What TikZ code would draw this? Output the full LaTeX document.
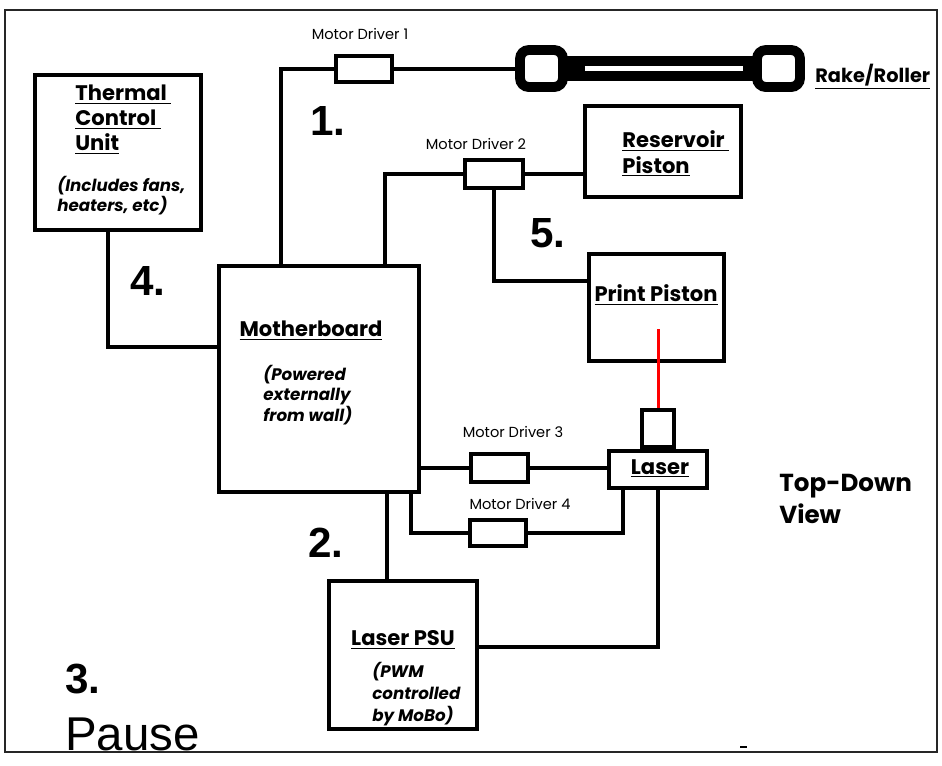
\documentclass[tikz,border=0pt]{standalone}
\usepackage{fontspec}
\setmainfont{Poppins}
\newfontfamily\arialfont{Liberation Sans}

\tikzset{
  blockbox/.style={draw, line width=2.2pt, fill=white, inner sep=0pt},
  drvbox/.style={draw, line width=2pt, fill=white, inner sep=0pt},
  rollend/.style={draw, line width=5.6pt, rounded corners=5pt, fill=white, minimum width=0.86cm, minimum height=0.74cm},
  wire/.style={line width=2pt},
  boxtitle/.style={font=\bfseries\fontsize{12}{14.2}\selectfont, inner sep=0pt, align=left},
  boxnote/.style={font=\bfseries\itshape\fontsize{9.5}{11.5}\selectfont, inner sep=0pt, align=left},
  drvlabel/.style={font=\fontsize{8.3}{10}\selectfont, inner sep=0pt},
  numlabel/.style={font=\arialfont\bfseries\fontsize{24}{28}\selectfont, inner sep=0pt, anchor=base west},
}

\begin{document}
\begin{tikzpicture}[x=0.02cm, y=-0.02cm]
  \useasboundingbox (0,0) rectangle (942,765);
  % outer frame
  \draw[line width=1.4pt, black!85] (5,10) rectangle (937,752);

  % Blocks
  \node[blockbox, minimum width=3.32cm, minimum height=3.10cm] (tcu) at (118,152.5) {};
  \node[blockbox, minimum width=4.00cm, minimum height=4.52cm] (mobo) at (319,379) {};
  \node[blockbox, minimum width=3.12cm, minimum height=1.82cm] (res) at (663,151.5) {};
  \node[blockbox, minimum width=2.70cm, minimum height=2.14cm] (prt) at (656.5,307.5) {};
  \node[blockbox, minimum width=2.96cm, minimum height=2.96cm] (psu) at (403,655) {};
  \node[blockbox, minimum width=0.64cm, minimum height=0.74cm] (lasertop) at (658,428.5) {};
  \node[blockbox, minimum width=1.96cm, minimum height=0.74cm] (laser) at (658,469.5) {};

  % Motor drivers
  \node[drvbox, minimum width=1.12cm, minimum height=0.52cm] (md1) at (364,69) {};
  \node[drvbox, minimum width=1.16cm, minimum height=0.56cm] (md2) at (494,174) {};
  \node[drvbox, minimum width=1.14cm, minimum height=0.56cm] (md3) at (499.5,468) {};
  \node[drvbox, minimum width=1.12cm, minimum height=0.52cm] (md4) at (498,533) {};

  \node[drvlabel] (md1lbl) at (360,34) {Motor Driver 1};
  \node[drvlabel] (md2lbl) at (476,144) {Motor Driver 2};
  \node[drvlabel] (md3lbl) at (513,432) {Motor Driver 3};
  \node[drvlabel] (md4lbl) at (520,504) {Motor Driver 4};

  % Rake/Roller
  \coordinate (rollLc) at (541.5,68.5);
  \coordinate (rollRc) at (778.5,68.5);
  \draw[line width=14.2pt] (rollLc) -- (rollRc);
  \node[rollend] (rollL) at (rollLc) {};
  \node[rollend] (rollR) at (rollRc) {};
  \draw[white, line width=2.3pt] ([xshift=0.34cm]rollL.east) -- ([xshift=-0.18cm]rollR.west);
  \node[boxtitle, anchor=north west, font=\bfseries\fontsize{11}{13}\selectfont] (rakelbl) at (815,64) {\underline{Rake/Roller}};

  % Texts in the blocks
  \node[boxtitle, anchor=north west] (tcutxt) at (75,85) {\underline{Thermal\ }\\\underline{Control\ }\\\underline{Unit}};
  \node[boxnote, anchor=north west] (tcunote) at (57,176) {(Includes fans,\\heaters, etc)};
  \node[boxtitle, anchor=north] (mobotxt) at (311,321) {\underline{Motherboard}};
  \node[boxnote, anchor=north west] (mobonote) at (263,365) {(Powered\\externally\\from wall)};
  \node[boxtitle, anchor=north west, font=\bfseries\fontsize{12}{14.7}\selectfont] (restxt) at (622,130) {\underline{Reservoir\ }\\\underline{Piston}};
  \node[boxtitle, anchor=north] (prttxt) at (656,284) {\underline{Print Piston}};
  \node[boxtitle, anchor=north] (lasertxt) at (660,459) {\underline{Laser}};
  \node[boxtitle, anchor=north] (psutxt) at (403,630) {\underline{Laser PSU}};
  \node[boxnote, anchor=north west, font=\bfseries\itshape\fontsize{9.5}{12.5}\selectfont] (psunote) at (372,662) {(PWM\\controlled\\by MoBo)};

  % Wiring
  \coordinate (tapA) at (281,0);
  \coordinate (tapB) at (385,0);
  \coordinate (tapC) at (0,281);
  \coordinate (tapD) at (108,0);
  \coordinate (tapE) at (0,347);
  \coordinate (tapF) at (411,0);
  \coordinate (tapG) at (623,0);
  \coordinate (tapH) at (387,0);
  \coordinate (tapI) at (0,647);
  \coordinate (beam) at (0,329);

  \draw[wire] (mobo.north -| tapA) |- (md1.west);
  \draw[wire] (md1.east) -- (md1.east -| rollL.west);
  \draw[wire] (mobo.north -| tapB) |- (md2.west);
  \draw[wire] (md2.east) -- (md2.east -| res.west);
  \draw[wire] (md2.south) |- (prt.west |- tapC);
  \draw[wire] (tcu.south -| tapD) |- (mobo.west |- tapE);
  \draw[wire] (mobo.east |- md3.west) -- (md3.west);
  \draw[wire] (md3.east) -- (md3.east -| laser.west);
  \draw[wire] (mobo.south -| tapF) |- (md4.west);
  \draw[wire] (md4.east) -| (laser.south -| tapG);
  \draw[wire] (mobo.south -| tapH) -- (psu.north -| tapH);
  \draw[wire] (laser.south) |- (psu.east |- tapI);
  \draw[red, line width=1.7pt] (lasertop.north |- beam) -- (lasertop.north);

  % Step numbers
  \node[numlabel] (n1) at (310,135) {1.};
  \node[numlabel] (n2) at (308,557) {2.};
  \node[numlabel] (n3) at (65,693) {3.};
  \node[numlabel] (n4) at (130,295) {4.};
  \node[numlabel] (n5) at (530,247) {5.};
  \node[numlabel, font=\arialfont\fontsize{27}{32}\selectfont] (pause) at (65,750) {Pause};

  \node[anchor=north west, inner sep=0pt, align=left, font=\bfseries\fontsize{14}{18}\selectfont] (viewlbl) at (779,474) {Top-Down\\View};
  \draw[line width=0.6pt] (740,747) -- (747,747);
\end{tikzpicture}
\end{document}
